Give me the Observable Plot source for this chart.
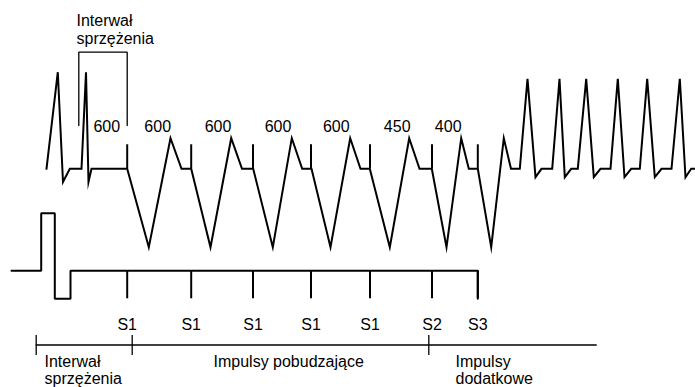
<!DOCTYPE html>
<html>
<head>
<meta charset="utf-8">
<script src="https://cdn.jsdelivr.net/npm/d3@7"></script>
<script src="https://cdn.jsdelivr.net/npm/@observablehq/plot@0.6"></script>
<style>
  html, body { margin: 0; padding: 0; background: #fff; }
  #chart svg { display: block; }
</style>
</head>
<body>
<div id="chart"></div>
<script>
// ECG trace (time units along x, amplitude units along y; y grows downward)
const ecgX = [46,57.3,62.5,69.3,81,85.5,88,91,126.7,
  148.3,170,181,190.7, 210,230.7,241.5,252.7, 272.3,291.3,301.7,311,
  330,349.7,360,369.3, 389.3,408.7,419,431.3, 446,460.7,468.3,477.3,
  490.7,503.3,510.5,519.3, 527,535,541,551.7, 559,564.3,570.7,577.3,
  585.7,593.3,600,610, 617.3,624,630.7,639.3, 646.7,654.3,661,671,
  679.3,685,690.7,695];
const ecgY = [168.3,71.7,181.5,168.3,168.3,71.7,181.5,168.3,168.3,
  246.7,137.7,168.3,168.3, 246.7,137.7,168.3,168.3, 246.7,137.7,168.3,168.3,
  246.7,137.7,168.3,168.3, 246.7,137.7,168.3,168.3, 246.7,137.7,168.3,168.3,
  246.7,137.7,168.3,168.3, 78.3,176.7,168.3,168.3, 78.3,176.7,168.3,168.3,
  78.3,176.7,168.3,168.3, 78.3,176.7,168.3,168.3, 78.3,176.7,168.3,168.3,
  78.3,176.7,168.3,168.3];

// Stimulation trace
const stimTraceX = [11,40.7,40.7,54.3,54.3,70,70,477.3,477.3];
const stimTraceY = [270.3,270.3,212.7,212.7,298.3,298.3,270.3,270.3,298.3];

// Stimuli
const stimX = [126.7,190.7,252.5,310.5,369.5,431.5,477.3];
const stimLabels = ["S1","S1","S1","S1","S1","S2","S3"];

// Interval labels (ms)
const intervalX = [106.3,157.2,217.5,277.5,335.8,396.7,447.7];
const intervalLabels = ["600","600","600","600","600","450","400"];

// Coupling-interval bracket
const bracketX = [78.3,78.3,126.7,126.7];
const bracketY = [125,51.7,51.7,125];
const bracketTitle = ["Interwał","sprzężenia"];

// Phase timeline
const phaseX = [35.7,131.7,428.3];
const phaseLabelX = [44,213,455];
const phaseLine1 = ["Interwał","Impulsy pobudzające","Impulsy"];
const phaseLine2 = ["sprzężenia","","dodatkowe"];

const idx = n => d3.range(n);
const fs = 16;

const chart = Plot.plot({
  width: 695,
  height: 387,
  margin: 0,
  x: {type: "linear", domain: [0, 695], range: [0, 695], axis: null},
  y: {type: "linear", domain: [0, 387], range: [0, 387], axis: null},
  style: {background: "#fff", fontFamily: "'Liberation Sans', Arial, sans-serif", color: "#000"},
  marks: [
    // bracket
    Plot.line(idx(bracketX.length), {x: i => bracketX[i], y: i => bracketY[i], stroke: "#000", strokeWidth: 1.3, strokeLinejoin: "miter"}),
    Plot.text(bracketTitle, {x: () => 76, y: (d, i) => 25.3 + i * 18, text: d => d, textAnchor: "start", lineAnchor: "bottom", fontSize: fs, fill: "#000"}),
    // ECG
    Plot.line(idx(ecgX.length), {x: i => ecgX[i], y: i => ecgY[i], stroke: "#000", strokeWidth: 2, strokeLinejoin: "miter", strokeMiterlimit: 10}),
    Plot.ruleX(stimX, {x: d => d, y1: 144.3, y2: 168.3, stroke: "#000", strokeWidth: 2}),
    Plot.text(intervalLabels, {x: (d, i) => intervalX[i], y: () => 131, text: d => d, textAnchor: "middle", lineAnchor: "bottom", fontSize: fs, fill: "#000"}),
    // stimulation trace
    Plot.line(idx(stimTraceX.length), {x: i => stimTraceX[i], y: i => stimTraceY[i], stroke: "#000", strokeWidth: 2, strokeLinejoin: "miter"}),
    Plot.ruleX(stimX, {x: d => d, y1: 270.3, y2: 298.3, stroke: "#000", strokeWidth: 2}),
    Plot.text(stimLabels, {x: (d, i) => stimX[i], y: () => 329, text: d => d, textAnchor: "middle", lineAnchor: "bottom", fontSize: fs, fill: "#000"}),
    // timeline
    Plot.ruleY([344.5], {y: d => d, x1: 35.7, x2: 596.7, stroke: "#000", strokeWidth: 1.3}),
    Plot.ruleX(phaseX, {x: d => d, y1: 335, y2: 355, stroke: "#000", strokeWidth: 1.3}),
    Plot.text(phaseLine1, {x: (d, i) => phaseLabelX[i], y: () => 366.5, text: d => d, textAnchor: "start", lineAnchor: "bottom", fontSize: fs, fill: "#000"}),
    Plot.text(phaseLine2, {x: (d, i) => phaseLabelX[i], y: () => 383.5, text: d => d, textAnchor: "start", lineAnchor: "bottom", fontSize: fs, fill: "#000"})
  ]
});
document.getElementById("chart").appendChild(chart);
</script>
</body>
</html>
